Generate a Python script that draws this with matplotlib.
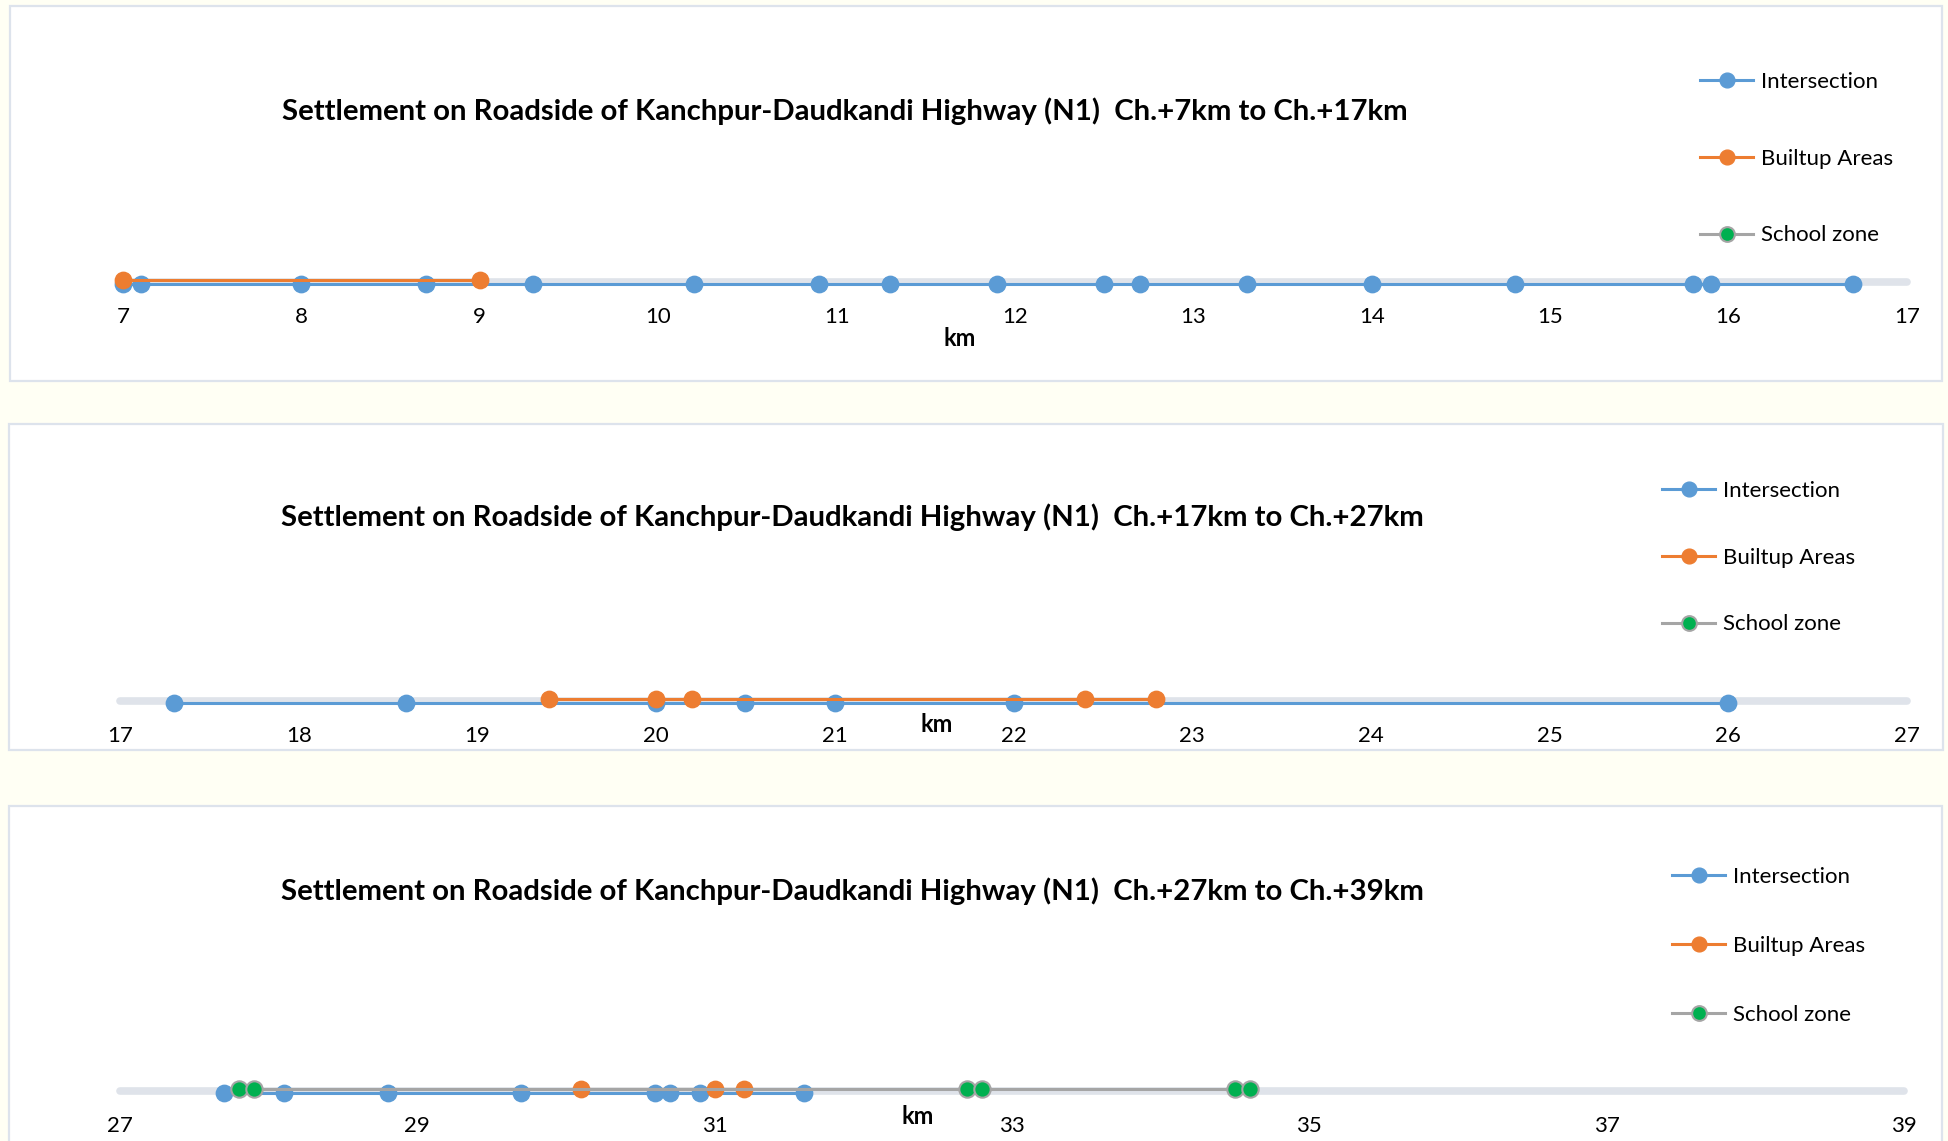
import matplotlib
matplotlib.use("Agg")
import matplotlib.pyplot as plt
from matplotlib.patches import Rectangle

plt.rcParams["font.family"] = ["Lato", "DejaVu Sans"]

# ---- data: chainage (km) of each feature along the highway ----
titles = [
    "Settlement on Roadside of Kanchpur-Daudkandi Highway (N1)  Ch.+7km to Ch.+17km",
    "Settlement on Roadside of Kanchpur-Daudkandi Highway (N1)  Ch.+17km to Ch.+27km",
    "Settlement on Roadside of Kanchpur-Daudkandi Highway (N1)  Ch.+27km to Ch.+39km",
]
x_ranges = [(7, 17), (17, 27), (27, 39)]
tick_steps = [1, 1, 2]

intersection_1 = [7.0, 7.1, 8.0, 8.7, 9.3, 10.2, 10.9, 11.3, 11.9, 12.5, 12.7,
                  13.3, 14.0, 14.8, 15.8, 15.9, 16.7]
builtup_1 = [7.0, 9.0]
school_1 = []

intersection_2 = [17.3, 18.6, 20.0, 20.5, 21.0, 22.0, 26.0]
builtup_2 = [19.4, 20.0, 20.2, 22.4, 22.8]
school_2 = []

intersection_3 = [27.7, 28.1, 28.8, 29.7, 30.6, 30.7, 30.9, 31.6]
builtup_3 = [30.1, 31.0, 31.2]
school_3 = [27.8, 27.9, 32.7, 32.8, 34.5, 34.6]

series_names = ["Intersection", "Builtup Areas", "School zone"]

# ---- styling ----
W, H = 1948, 1141
BG = "#FFFFF4"
FRAME = "#DDE3EC"
AXIS_BAND = "#DFE3EA"
BLUE = "#5B9BD5"
ORANGE = "#ED7D31"
GREEN = "#00B050"
GREY = "#A5A5A5"

fig = plt.figure(figsize=(W / 100, H / 100), dpi=100, facecolor=BG)


def frac_box(left, top, right, bottom):
    return [left / W, 1 - bottom / H, (right - left) / W, (bottom - top) / H]


# chart frames (pixel boxes)
frames = [(10, 6, 1942, 381), (9, 424, 1943, 750), (9, 806, 1942, 1160)]
for (l, t, r, b) in frames:
    fig.add_artist(Rectangle((l / W, 1 - b / H), (r - l) / W, (b - t) / H,
                             transform=fig.transFigure, facecolor="white",
                             edgecolor=FRAME, linewidth=1.6, zorder=0))

# plot strips: x-pixel of axis start/end, y-pixel of the axis line
strips = [(123, 1907, 282), (120, 1907, 701), (120, 1904, 1091)]
title_pos = [(845, 111), (852, 517), (852, 891)]
km_pos = [(960, 339), (937, 724), (918, 1116)]
legend_pos = [(1680, 52, 2.55), (1642, 461, 2.1), (1652, 847, 2.2)]

data = [
    (intersection_1, builtup_1, school_1),
    (intersection_2, builtup_2, school_2),
    (intersection_3, builtup_3, school_3),
]

half = 20  # half height of strip in pixels
for i in range(3):
    x0p, x1p, yp = strips[i]
    ax = fig.add_axes(frac_box(x0p, yp - half, x1p, yp + half))
    ax.set_facecolor("none")
    lo, hi = x_ranges[i]
    ax.set_xlim(lo, hi)
    ax.set_ylim(-1, 1)
    for s in ax.spines.values():
        s.set_visible(False)
    ax.set_yticks([])
    ax.set_xticks(list(range(lo, hi + 1, tick_steps[i])))
    ax.tick_params(axis="x", length=0, pad=3.8, labelsize=16)

    # category axis band
    ax.plot([lo, hi], [0, 0], color=AXIS_BAND, linewidth=5.5,
            solid_capstyle="round", zorder=1, clip_on=False)

    inter, built, school = data[i]
    h_int, = ax.plot(inter, [-0.1] * len(inter), color=BLUE, linewidth=2.2,
                     marker="o", markersize=11.8, markerfacecolor=BLUE,
                     markeredgecolor=BLUE, zorder=3, clip_on=False,
                     label=series_names[0])
    h_bu, = ax.plot(built, [0.1] * len(built), color=ORANGE, linewidth=2.2,
                    marker="o", markersize=11.8, markerfacecolor=ORANGE,
                    markeredgecolor=ORANGE, zorder=4, clip_on=False,
                    label=series_names[1])
    h_sc, = ax.plot(school, [0.1] * len(school), color=GREY, linewidth=2.2,
                    marker="o", markersize=11.8, markerfacecolor=GREEN,
                    markeredgecolor=GREY, markeredgewidth=1.5, zorder=5,
                    clip_on=False, label=series_names[2])

    tx, ty = title_pos[i]
    fig.text(tx / W, 1 - ty / H, titles[i], ha="center", va="center",
             fontsize=21.2, fontweight="bold")
    kx, ky = km_pos[i]
    fig.text(kx / W, 1 - ky / H, "km", ha="center", va="center",
             fontsize=17, fontweight="bold")

    lx, ly, sp = legend_pos[i]
    ax.legend(handles=[h_int, h_bu, h_sc], loc="upper left",
              bbox_to_anchor=(lx / W, 1 - ly / H),
              bbox_transform=fig.transFigure, frameon=False, fontsize=16,
              handlelength=2.4, handletextpad=0.35, labelspacing=sp,
              markerscale=0.9)

fig.savefig("out.png", dpi=100, facecolor=BG)
